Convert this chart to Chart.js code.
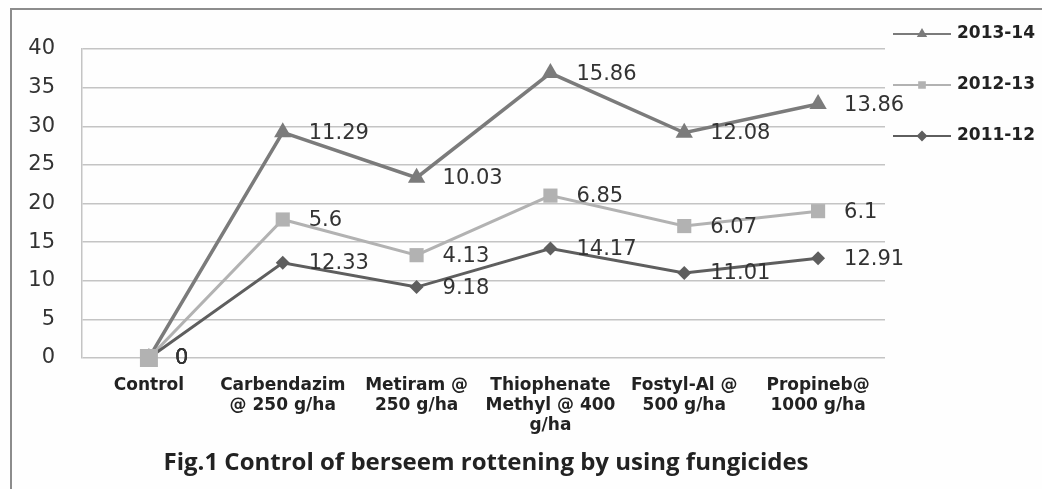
<!DOCTYPE html>
<html>
<head>
<meta charset="utf-8">
<script src="https://cdn.jsdelivr.net/npm/chart.js@4"></script>
<style>
  html, body { margin: 0; padding: 0; background: #fff; }
  #wrap { width: 1042px; height: 489px; position: relative; }
</style>
</head>
<body>
<div id="wrap"><canvas id="chart" width="1042" height="489"></canvas></div>
<script>
const categories = [
  ['Control'],
  ['Carbendazim', '@ 250 g/ha'],
  ['Metiram @', '250 g/ha'],
  ['Thiophenate', 'Methyl @ 400', 'g/ha'],
  ['Fostyl-Al @', '500 g/ha'],
  ['Propineb@', '1000 g/ha']
];
const values2011 = [0, 12.33, 9.18, 14.17, 11.01, 12.91];
const values2012 = [0, 5.6, 4.13, 6.85, 6.07, 6.1];
const values2013 = [0, 11.29, 10.03, 15.86, 12.08, 13.86];
const yTicks = [0, 5, 10, 15, 20, 25, 30, 35, 40];
const titleText = 'Fig.1 Control of berseem rottening by using fungicides';

// frame + white background
const framePlugin = {
  id: 'frame',
  beforeDraw(chart) {
    const ctx = chart.ctx;
    ctx.save();
    ctx.fillStyle = '#fefefe';
    ctx.fillRect(0, 0, chart.width, chart.height);
    ctx.strokeStyle = '#8c8c8c';
    ctx.lineWidth = 2;
    ctx.beginPath();
    ctx.moveTo(11, chart.height);
    ctx.lineTo(11, 9);
    ctx.lineTo(chart.width, 9);
    ctx.stroke();
    ctx.restore();
  }
};

// value labels next to points (unstacked values)
const labelPlugin = {
  id: 'valueLabels',
  afterDatasetsDraw(chart) {
    const ctx = chart.ctx;
    ctx.save();
    // square of 2012-13 sits on top at Control in the original
    const sq = chart.getDatasetMeta(1).data[0];
    if (sq) {
      ctx.fillStyle = chart.data.datasets[1].backgroundColor;
      ctx.fillRect(sq.x - 9, sq.y - 9, 18, 18);
    }
    ctx.font = '21px "DejaVu Sans"';
    ctx.fillStyle = '#333';
    ctx.textBaseline = 'middle';
    ctx.textAlign = 'left';
    chart.data.datasets.forEach((ds, i) => {
      const meta = chart.getDatasetMeta(i);
      meta.data.forEach((pt, j) => {
        ctx.fillText(String(ds.data[j]), pt.x + 26, pt.y + 1);
      });
    });
    ctx.restore();
  }
};

// legend on the right and caption at the bottom
const legendPlugin = {
  id: 'sideLegend',
  afterDraw(chart) {
    const ctx = chart.ctx;
    const order = [2, 1, 0];
    const ys = [34, 85, 136];
    ctx.save();
    order.forEach((idx, k) => {
      const ds = chart.data.datasets[idx];
      const y = ys[k];
      ctx.strokeStyle = ds.borderColor;
      ctx.lineWidth = 2;
      ctx.beginPath();
      ctx.moveTo(893, y);
      ctx.lineTo(951, y);
      ctx.stroke();
      Chart.helpers.drawPoint(ctx, {
        pointStyle: ds.pointStyle, radius: 4, rotation: 0, borderWidth: 1
      }, 922, y);
      ctx.fillStyle = ds.borderColor;
      ctx.fill();
      ctx.fillStyle = '#222';
      ctx.font = 'bold 17px "DejaVu Sans"';
      ctx.textBaseline = 'middle';
      ctx.textAlign = 'left';
      ctx.fillText(ds.label, 957, y);
    });
    ctx.font = 'bold 24px "Open Sans"';
    ctx.fillStyle = '#222';
    ctx.textAlign = 'center';
    ctx.textBaseline = 'middle';
    ctx.fillText(titleText, 486, 463);
    ctx.restore();
  }
};

new Chart(document.getElementById('chart'), {
  type: 'line',
  data: {
    labels: categories,
    datasets: [{
      label: '2011-12',
      data: values2011,
      borderColor: '#5e5e5e',
      backgroundColor: '#5e5e5e',
      borderWidth: 3,
      pointStyle: 'rectRot',
      pointRadius: 7,
      pointBorderWidth: 0,
      fill: false,
      tension: 0
    }, {
      label: '2012-13',
      data: values2012,
      borderColor: '#b2b2b2',
      backgroundColor: '#b2b2b2',
      borderWidth: 3,
      pointStyle: 'rect',
      pointRadius: 10,
      pointBorderWidth: 0,
      fill: false,
      tension: 0
    }, {
      label: '2013-14',
      data: values2013,
      borderColor: '#7b7b7b',
      backgroundColor: '#7b7b7b',
      borderWidth: 3.5,
      pointStyle: 'triangle',
      pointRadius: 10,
      pointBorderWidth: 0,
      fill: false,
      tension: 0
    }]
  },
  options: {
    responsive: false,
    animation: false,
    layout: { padding: { top: 49, right: 157, bottom: 0, left: 10 } },
    plugins: {
      legend: { display: false },
      tooltip: { enabled: false },
      title: { display: false }
    },
    scales: {
      x: {
        offset: true,
        grid: { display: false, drawTicks: false },
        border: { display: false },
        ticks: {
          color: '#222',
          font: { family: 'DejaVu Sans', size: 17, weight: 'bold', lineHeight: 1.2 },
          padding: 17,
          maxRotation: 0,
          autoSkip: false
        },
        afterFit(scale) { scale.height = 131; }
      },
      y: {
        stacked: true,
        min: 0,
        max: 40,
        afterBuildTicks(scale) { scale.ticks = yTicks.map(v => ({ value: v })); },
        grid: { color: '#c4c4c4', lineWidth: 1.5, drawTicks: false },
        border: { display: true, color: '#c4c4c4', width: 1.5 },
        ticks: {
          color: '#333',
          font: { family: 'DejaVu Sans', size: 21 },
          padding: 27
        },
        afterFit(scale) { scale.width = 72; }
      }
    }
  },
  plugins: [framePlugin, labelPlugin, legendPlugin]
});
</script>
</body>
</html>
